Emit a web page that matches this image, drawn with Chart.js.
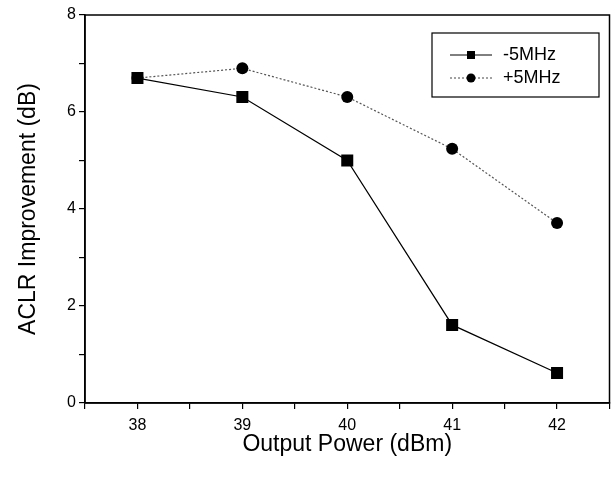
<!DOCTYPE html>
<html><head><meta charset="utf-8">
<script src="https://cdn.jsdelivr.net/npm/chart.js@4.4.0/dist/chart.umd.min.js"></script>
<style>html,body{margin:0;padding:0;background:#fff;overflow:hidden}#wrap{width:611px;height:478px;overflow:hidden}</style>
</head><body><div id="wrap"><canvas id="c" width="618" height="478"></canvas></div>
<script>
const powers = [38, 39, 40, 41, 42];
const minus5 = [6.7, 6.31, 5.0, 1.61, 0.62];
const plus5 = [6.7, 6.9, 6.31, 5.24, 3.71];
const xTickLabels = ['38', '39', '40', '41', '42'];
const yTickLabels = ['0', '2', '4', '6', '8'];
const seriesLabels = ['-5MHz', '+5MHz'];
const FONT = "'Liberation Sans', Arial, sans-serif";

const frame = {
  id: 'frame',
  afterDraw(chart) {
    const {ctx, chartArea: a} = chart;
    ctx.save();
    ctx.strokeStyle = '#000'; ctx.lineWidth = 1.5;
    ctx.strokeRect(a.left, a.top, a.right - a.left, a.bottom - a.top);
    // legend box
    const bx = 432, by = 33, bw = 167, bh = 64;
    ctx.lineWidth = 1.2;
    ctx.strokeRect(bx, by, bw, bh);
    const entries = [
      {y: 55, style: 'rect', r: 6, dash: [], color: '#000'},
      {y: 78, style: 'circle', r: 4.5, dash: [2, 2], color: '#444'}
    ];
    entries.forEach((e, i) => {
      ctx.setLineDash(e.dash);
      ctx.strokeStyle = e.color; ctx.lineWidth = 1;
      ctx.beginPath(); ctx.moveTo(450, e.y); ctx.lineTo(492, e.y); ctx.stroke();
      ctx.setLineDash([]);
      ctx.fillStyle = '#000';
      if (e.style === 'rect') { ctx.fillRect(471 - 4, e.y - 4, 8, 8); }
      else { ctx.beginPath(); ctx.arc(471, e.y, e.r, 0, Math.PI * 2); ctx.fill(); }
      ctx.font = '18px ' + FONT; ctx.textBaseline = 'middle'; ctx.textAlign = 'left';
      ctx.fillText(seriesLabels[i], 503, e.y);
    });
    ctx.restore();
  }
};

new Chart(document.getElementById('c'), {
  type: 'line',
  data: {
    datasets: [
      {label: seriesLabels[0], data: powers.map((p, i) => ({x: p, y: minus5[i]})),
       borderColor: '#000', borderWidth: 1.2, pointStyle: 'rect', pointRadius: 8.5,
       pointBackgroundColor: '#000', pointBorderWidth: 0, tension: 0},
      {label: seriesLabels[1], data: powers.map((p, i) => ({x: p, y: plus5[i]})),
       borderColor: '#555', borderWidth: 1.2, borderDash: [2, 2], pointStyle: 'circle', pointRadius: 6,
       pointBackgroundColor: '#000', pointBorderWidth: 0, tension: 0}
    ]
  },
  options: {
    responsive: false, animation: false, devicePixelRatio: 1,
    layout: {padding: {top: 15, right: 1, left: 0, bottom: 0}},
    plugins: {legend: {display: false}, tooltip: {enabled: false}},
    scales: {
      x: {
        type: 'linear', min: 37.5, max: 42.5,
        afterFit(s) { s.height = 75; s.paddingRight = 0; s.paddingLeft = 0; },
        grid: {drawOnChartArea: false, tickLength: 6, color: '#000', lineWidth: 1.2},
        border: {color: '#000', width: 1.5},
        ticks: {stepSize: 0.5, color: '#000', font: {family: FONT, size: 16}, padding: 7, maxRotation: 0,
          callback(v) { const i = powers.indexOf(v); return i >= 0 ? xTickLabels[i] : ''; }},
        title: {display: true, text: 'Output Power (dBm)', color: '#000', font: {family: FONT, size: 23}, padding: {top: 4, bottom: 20}}
      },
      y: {
        min: 0, max: 8,
        afterFit(s) { s.width = 85; s.paddingTop = 0; s.paddingBottom = 0; },
        grid: {drawOnChartArea: false, tickLength: 6, color: '#000', lineWidth: 1.2},
        border: {color: '#000', width: 1.5},
        ticks: {stepSize: 1, color: '#000', font: {family: FONT, size: 16}, padding: 3,
          callback(v) { return v % 2 === 0 ? yTickLabels[v / 2] : ''; }},
        title: {display: true, text: 'ACLR Improvement (dB)', color: '#000', font: {family: FONT, size: 23}, padding: {top: 15, bottom: 0}}
      }
    }
  },
  plugins: [frame]
});
</script></body></html>
